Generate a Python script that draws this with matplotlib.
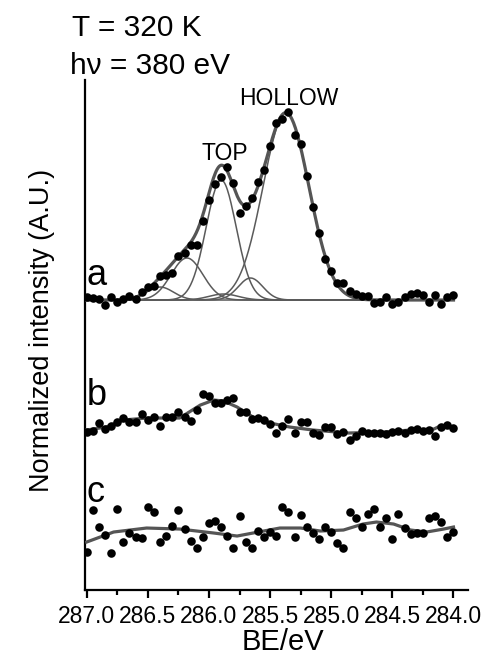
import numpy as np
import matplotlib
matplotlib.use("Agg")
import matplotlib.pyplot as plt
from matplotlib.ticker import MultipleLocator

plt.rcParams['font.family'] = ['Liberation Sans', 'DejaVu Sans']

# binding energy grid (eV), shared by the three spectra
be = [287.00, 286.95, 286.90, 286.85, 286.80, 286.75, 286.70, 286.65, 286.60, 286.55,
      286.50, 286.45, 286.40, 286.35, 286.30, 286.25, 286.20, 286.15, 286.10, 286.05,
      286.00, 285.95, 285.90, 285.85, 285.80, 285.75, 285.70, 285.65, 285.60, 285.55,
      285.50, 285.45, 285.40, 285.35, 285.30, 285.25, 285.20, 285.15, 285.10, 285.05,
      285.00, 284.95, 284.90, 284.85, 284.80, 284.75, 284.70, 284.65, 284.60, 284.55,
      284.50, 284.45, 284.40, 284.35, 284.30, 284.25, 284.20, 284.15, 284.10, 284.05,
      284.00]

# stacked intensities (A.U.)
spec_a = [2.93, 2.92, 2.91, 2.85, 2.93, 2.88, 2.91, 2.94, 2.91, 2.98,
          3.03, 3.04, 3.14, 3.15, 3.17, 3.34, 3.37, 3.45, 3.45, 3.69,
          3.90, 4.06, 4.13, 4.23, 4.07, 3.77, 3.84, 3.92, 4.08, 4.20,
          4.44, 4.67, 4.71, 4.78, 4.55, 4.46, 4.14, 3.83, 3.57, 3.31,
          3.19, 3.07, 3.07, 2.99, 2.96, 2.94, 2.94, 2.87, 2.88, 2.93,
          2.86, 2.88, 2.93, 2.96, 2.97, 2.95, 2.88, 2.95, 2.86, 2.93,
          2.95]
spec_b = [1.58, 1.59, 1.67, 1.61, 1.64, 1.68, 1.72, 1.68, 1.68, 1.76,
          1.70, 1.73, 1.64, 1.73, 1.73, 1.78, 1.73, 1.69, 1.80, 1.96,
          1.94, 1.87, 1.87, 1.90, 1.92, 1.78, 1.78, 1.71, 1.72, 1.70,
          1.66, 1.57, 1.64, 1.71, 1.57, 1.68, 1.68, 1.57, 1.55, 1.63,
          1.63, 1.56, 1.58, 1.50, 1.54, 1.59, 1.57, 1.57, 1.57, 1.56,
          1.58, 1.59, 1.57, 1.60, 1.61, 1.59, 1.60, 1.54, 1.63, 1.65,
          1.62]
spec_c = [0.38, 0.80, 0.63, 0.55, 0.37, 0.81, 0.48, 0.57, 0.53, 0.52,
          0.83, 0.78, 0.48, 0.54, 0.64, 0.80, 0.61, 0.49, 0.42, 0.53,
          0.67, 0.69, 0.63, 0.54, 0.42, 0.74, 0.48, 0.42, 0.59, 0.53,
          0.58, 0.54, 0.83, 0.78, 0.53, 0.75, 0.63, 0.57, 0.51, 0.63,
          0.58, 0.47, 0.42, 0.78, 0.72, 0.63, 0.76, 0.81, 0.63, 0.72,
          0.51, 0.76, 0.62, 0.56, 0.57, 0.57, 0.72, 0.74, 0.68, 0.53,
          0.58]

# peak fit of spectrum a: baseline + gaussian components
base_a = 2.90
peak_center = [285.37, 285.90, 285.66, 286.18, 286.40, 285.88]
peak_height = [1.87, 1.20, 0.22, 0.42, 0.13, 0.06]
peak_sigma = [0.188, 0.123, 0.10, 0.13, 0.11, 0.12]

# smoothed fit lines of spectra b and c
fit_b_x = [287.00, 286.84, 286.70, 286.51, 286.24, 286.07, 285.96, 285.88, 285.77,
           285.64, 285.50, 285.34, 285.15, 284.86, 284.57, 284.35, 284.16, 284.11, 284.00]
fit_b_y = [1.60, 1.63, 1.70, 1.72, 1.72, 1.85, 1.90, 1.89, 1.83,
           1.73, 1.67, 1.63, 1.60, 1.57, 1.58, 1.60, 1.61, 1.64, 1.62]
fit_c_x = [287.00, 286.78, 286.51, 286.24, 285.96, 285.77, 285.64, 285.42, 285.25,
           285.09, 284.90, 284.74, 284.63, 284.49, 284.35, 284.22, 284.08, 284.00]
fit_c_y = [0.48, 0.58, 0.62, 0.61, 0.57, 0.54, 0.57, 0.62, 0.62,
           0.59, 0.60, 0.66, 0.68, 0.66, 0.60, 0.58, 0.61, 0.63]

tick_vals = [287.0, 286.5, 286.0, 285.5, 285.0, 284.5, 284.0]
tick_text = ['287.0', '286.5', '286.0', '285.5', '285.0', '284.5', '284.0']

fig = plt.figure(figsize=(4.82, 6.58), dpi=100)
ax = fig.add_axes([0.1763, 0.1033, 0.795, 0.7751])

# fit components of a
xf = np.linspace(287.0, 284.0, 400)
comps = [h * np.exp(-(xf - c) ** 2 / (2 * s ** 2))
         for c, h, s in zip(peak_center, peak_height, peak_sigma)]
for comp in comps:
    ax.plot(xf, base_a + comp, color='#5a5a5a', lw=1.1, zorder=2)
ax.plot(xf, base_a + np.sum(comps, axis=0), color='#555555', lw=2.3, zorder=3)

ax.plot(fit_b_x, fit_b_y, color='#555555', lw=2.3, zorder=3)
ax.plot(fit_c_x, fit_c_y, color='#555555', lw=2.3, zorder=3)

for spec in (spec_a, spec_b, spec_c):
    ax.scatter(be, spec, s=38, color='black', zorder=4, linewidths=0)

ax.set_xlim(287.014, 283.88)
ax.set_ylim(0, 5.10)

for side in ('top', 'right'):
    ax.spines[side].set_visible(False)
for side in ('left', 'bottom'):
    ax.spines[side].set_linewidth(1.6)
ax.set_yticks([])
ax.set_xticks(tick_vals)
ax.set_xticklabels(tick_text, fontsize=16.5)
ax.xaxis.set_minor_locator(MultipleLocator(0.25))
ax.tick_params(axis='x', which='major', direction='out', length=5.5, width=1.6, pad=5)
ax.tick_params(axis='x', which='minor', direction='out', length=3.5, width=1.6)

ax.text(287.0, 3.05, 'a', fontsize=26, ha='left', va='baseline')
ax.text(287.0, 1.85, 'b', fontsize=26, ha='left', va='baseline')
ax.text(287.0, 0.88, 'c', fontsize=26, ha='left', va='baseline')
ax.text(285.87, 4.30, 'TOP', fontsize=16.5, ha='center', va='baseline')
ax.text(285.35, 4.85, 'HOLLOW', fontsize=16.5, ha='center', va='baseline',
        clip_on=False)

fig.text(0.149, 0.945, 'T = 320 K', fontsize=21.5, ha='left', va='baseline')
fig.text(0.145, 0.8875, 'hν = 380 eV', fontsize=21.5, ha='left', va='baseline')
fig.text(0.087, 0.498, 'Normalized intensity (A.U.)', fontsize=19.5,
         rotation=90, ha='center', va='center')
fig.text(0.587, 0.025, 'BE/eV', fontsize=21, ha='center', va='center')

fig.savefig('out.png', dpi=100)
